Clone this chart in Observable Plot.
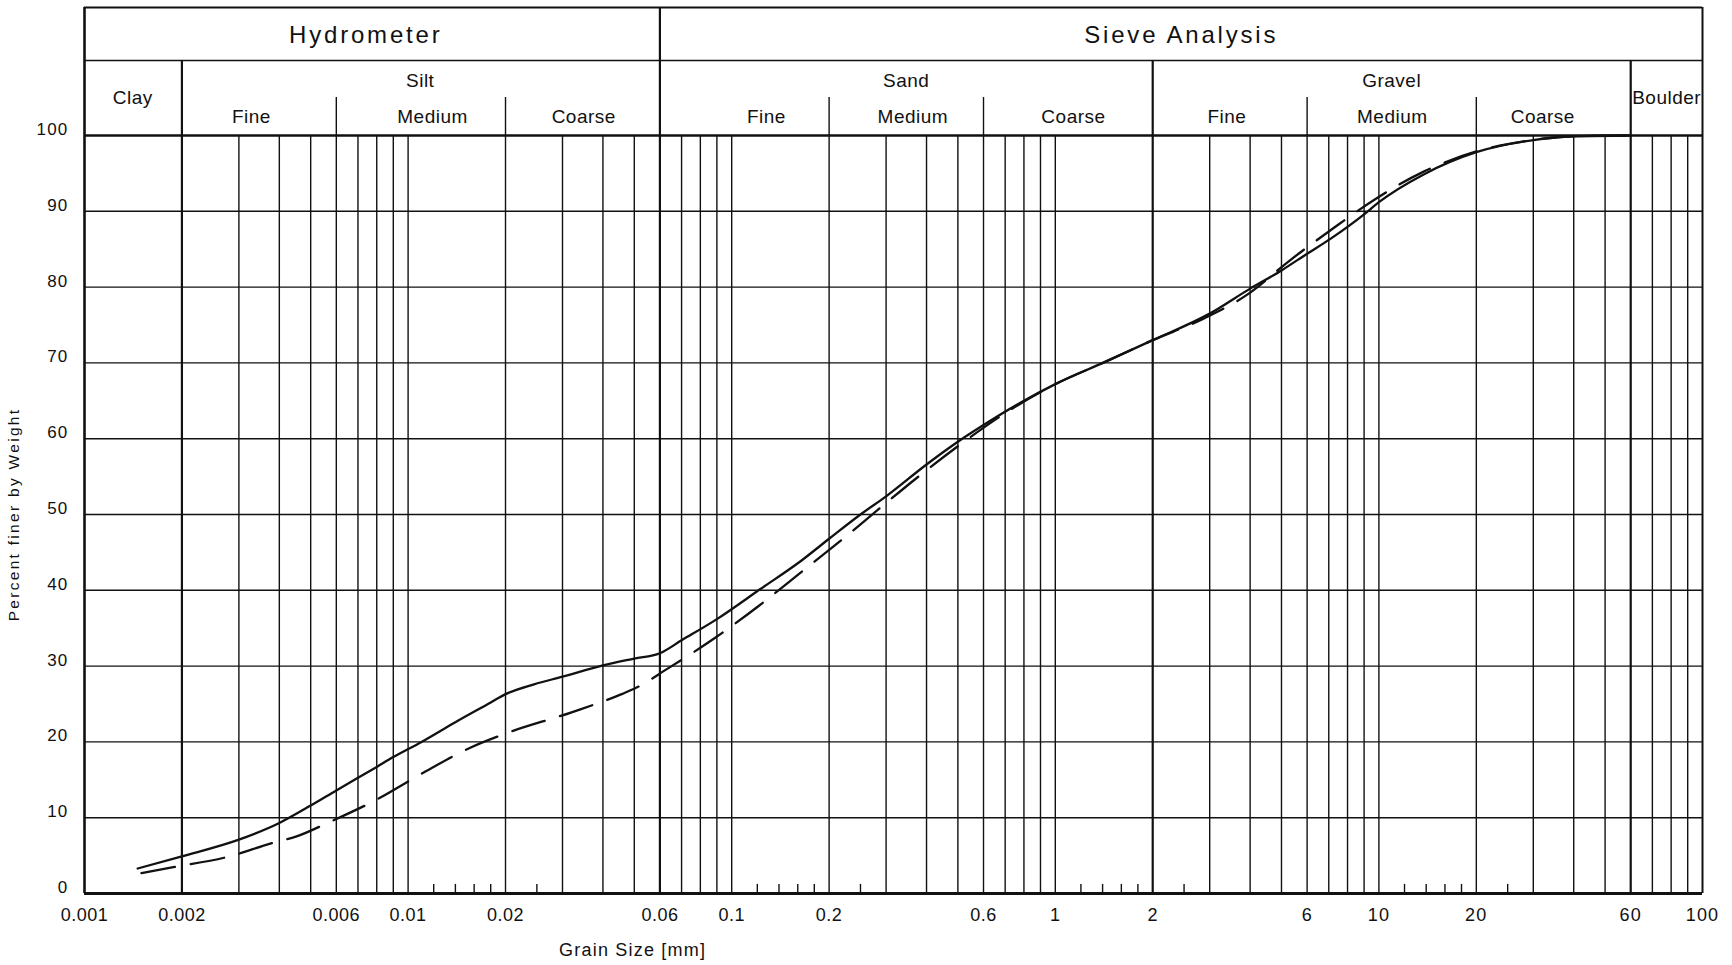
<!DOCTYPE html>
<html>
<head>
<meta charset="utf-8">
<script src="https://cdn.jsdelivr.net/npm/d3@7"></script>
<script src="https://cdn.jsdelivr.net/npm/@observablehq/plot@0.6"></script>
<style>
  body { margin: 0; background: #fff; }
  #chart svg { display: block; }
</style>
</head>
<body>
<div id="chart"></div>
<script>
// ---- data (grain size in mm, percent finer by weight) ----
const sampleA_size = [0.00146, 0.002, 0.003, 0.004, 0.005, 0.006, 0.008, 0.009, 0.011, 0.014, 0.018, 0.02, 0.0245, 0.03, 0.04, 0.05, 0.06, 0.07, 0.09, 0.123, 0.164, 0.2, 0.25, 0.3, 0.4, 0.5, 0.6, 0.8, 1.0, 1.42, 2.0, 3.0, 4.0, 5.0, 6.0, 7.1, 9.0, 10, 13.8, 20, 30, 40, 60];
const sampleA_finer = [3.3, 4.9, 7.1, 9.3, 11.6, 13.6, 16.7, 18.0, 20.0, 22.6, 25.2, 26.3, 27.6, 28.6, 30.1, 31.0, 31.7, 33.4, 36.2, 40.2, 43.9, 46.8, 50.0, 52.4, 56.6, 59.6, 61.8, 65.0, 67.2, 70.1, 73.0, 76.5, 79.8, 82.2, 84.4, 86.4, 89.6, 91.2, 94.9, 97.8, 99.4, 99.9, 100];

const sampleB_size = [0.0015, 0.0019, 0.00275, 0.0039, 0.0045, 0.0057, 0.008, 0.011, 0.0155, 0.02, 0.032, 0.0457, 0.051, 0.063, 0.088, 0.12, 0.164, 0.218, 0.29, 0.388, 0.53, 0.72, 1.0, 1.42, 2.0, 2.86, 3.95, 5.3, 7.3, 9.9, 13.7, 20, 30, 40, 60];
const sampleB_finer = [2.7, 3.5, 4.8, 6.8, 7.5, 9.4, 12.4, 15.8, 19.2, 21.1, 23.9, 26.3, 27.2, 29.6, 33.6, 37.8, 42.4, 46.6, 51.0, 55.4, 59.8, 63.7, 67.2, 70.1, 73.0, 75.8, 79.1, 83.5, 87.9, 91.8, 95.2, 97.9, 99.4, 99.9, 100];

// grid of sieve / hydrometer sizes
const gridSizes = [0.003, 0.004, 0.005, 0.007, 0.008, 0.009, 0.01, 0.03, 0.04, 0.05, 0.07, 0.08, 0.09, 0.1, 0.3, 0.4, 0.5, 0.7, 0.8, 0.9, 1, 3, 4, 5, 7, 8, 9, 10, 30, 40, 50, 70, 80, 90];
const subBoundaries = [0.006, 0.02, 0.2, 0.6, 6, 20];
const minorTicks = [0.012, 0.014, 0.016, 0.018, 0.025, 0.12, 0.14, 0.16, 0.18, 0.25, 1.2, 1.4, 1.6, 1.8, 2.5, 12, 14, 16, 18, 25];
const xTickLabels = [0.001, 0.002, 0.006, 0.01, 0.02, 0.06, 0.1, 0.2, 0.6, 1, 2, 6, 10, 20, 60, 100];
const yTickLabels = [0, 10, 20, 30, 40, 50, 60, 70, 80, 90, 100];
const yGrid = [10, 20, 30, 40, 50, 60, 70, 80, 90];

// header categories
const methodNames = ["Hydrometer", "Sieve Analysis"];
const methodAt = [0.0074, 2.45];
const soilNames = ["Silt", "Sand", "Gravel"];
const soilAt = [0.0109, 0.346, 10.95];
const edgeSoilNames = ["Clay", "Boulder"];
const edgeSoilAt = [0.00141, 77.5];
const fractionNames = ["Fine", "Medium", "Coarse", "Fine", "Medium", "Coarse", "Fine", "Medium", "Coarse"];
const fractionAt = [0.00328, 0.0119, 0.0349, 0.128, 0.363, 1.138, 3.39, 11.0, 32.1];

const xTitle = "Grain Size [mm]";
const yTitle = "Percent finer by Weight";

// ---- build tables ----
const sampleA = sampleA_size.map((d, i) => ({size: d, finer: sampleA_finer[i]}));
const sampleB = sampleB_size.map((d, i) => ({size: d, finer: sampleB_finer[i]}));
const methods = methodNames.map((n, i) => ({label: n, at: methodAt[i]}));
const soils = soilNames.map((n, i) => ({label: n, at: soilAt[i]}));
const edgeSoils = edgeSoilNames.map((n, i) => ({label: n, at: edgeSoilAt[i]}));
const fractions = fractionNames.map((n, i) => ({label: n, at: fractionAt[i]}));

// header rows expressed on the percent axis (above 100)
const H = {top: 116.9, row: 109.9, sub: 105.0, methodY: 113.2, soilY: 107.2, edgeY: 104.9, fracY: 102.4};

const ink = "#111";
const font = "Liberation Sans, Arial, Helvetica, sans-serif";
const thin = 1.4;

const chart = Plot.plot({
  width: 1732,
  height: 965,
  marginLeft: 84,
  marginRight: 30,
  marginTop: 135,
  marginBottom: 72,
  style: {fontFamily: font, background: "#fff", color: ink},
  x: {type: "log", domain: [0.001, 100], axis: null},
  y: {domain: [0, 100], axis: null},
  marks: [
    // grid
    Plot.ruleY(yGrid, {stroke: ink, strokeWidth: thin}),
    Plot.ruleX(gridSizes, {y1: 0, y2: 100, stroke: ink, strokeWidth: thin}),
    Plot.ruleX(subBoundaries, {y1: 0, y2: H.sub, stroke: ink, strokeWidth: thin}),
    Plot.ruleX(minorTicks, {y1: 0, y2: 1.2, stroke: ink, strokeWidth: thin}),
    Plot.ruleX([0.002, 2, 60], {y1: 0, y2: H.row, stroke: ink, strokeWidth: 2.2}),
    Plot.ruleX([0.06], {y1: 0, y2: H.top, stroke: ink, strokeWidth: 2.2}),
    // header box
    Plot.ruleY([H.row], {x1: 0.001, x2: 100, stroke: ink, strokeWidth: 1.5}),
    Plot.ruleY([H.top], {x1: 0.001, x2: 100, stroke: ink, strokeWidth: 2}),
    Plot.ruleY([100], {x1: 0.001, x2: 100, stroke: ink, strokeWidth: 2.4}),
    Plot.ruleY([0], {x1: 0.001, x2: 100, stroke: ink, strokeWidth: 3}),
    Plot.ruleX([0.001], {y1: 0, y2: H.top, stroke: ink, strokeWidth: 2.6}),
    Plot.ruleX([100], {y1: 0, y2: H.top, stroke: ink, strokeWidth: 2}),
    // header texts
    Plot.text(methods, {x: "at", y: H.methodY, text: "label", fontSize: 24, fill: ink}),
    Plot.text(soils, {x: "at", y: H.soilY, text: "label", fontSize: 19, fill: ink}),
    Plot.text(edgeSoils, {x: "at", y: H.edgeY, text: "label", fontSize: 19, fill: ink}),
    Plot.text(fractions, {x: "at", y: H.fracY, text: "label", fontSize: 19, fill: ink}),
    // curves
    Plot.line(sampleA, {x: "size", y: "finer", curve: "monotone-x", stroke: ink, strokeWidth: 2.3}),
    Plot.line(sampleB, {x: "size", y: "finer", curve: "monotone-x", stroke: ink, strokeWidth: 2.3, strokeDasharray: "34 16"}),
    // axes (tick labels)
    Plot.text(xTickLabels, {x: d => d, frameAnchor: "bottom", lineAnchor: "middle", textAnchor: "middle", dy: 22, text: d => String(d), fontSize: 18, fill: ink}),
    Plot.text(yTickLabels, {y: d => d, frameAnchor: "left", textAnchor: "end", lineAnchor: "middle", dx: -16, dy: -6, text: d => String(d), fontSize: 17, fill: ink}),
    Plot.text([xTitle], {x: 0.0494, frameAnchor: "bottom", lineAnchor: "middle", textAnchor: "middle", dy: 57, fontSize: 18, fill: ink}),
    Plot.text([yTitle], {y: 50, frameAnchor: "left", textAnchor: "middle", lineAnchor: "middle", dx: -70, rotate: -90, fontSize: 15.5, fill: ink})
  ]
});

// letter spacing to match the reference's wide lettering
const spacing = new Map();
methodNames.forEach(n => spacing.set(n, 2.8));
[...soilNames, ...edgeSoilNames, ...fractionNames].forEach(n => spacing.set(n, 0.5));
xTickLabels.forEach(d => spacing.set(String(d), 0.5));
yTickLabels.forEach(d => spacing.set(String(d), 1.2));
spacing.set(xTitle, 1.2);
spacing.set(yTitle, 2.3);
d3.select(chart).selectAll("text").each(function () {
  const ls = spacing.get(this.textContent);
  if (ls != null) this.setAttribute("letter-spacing", ls);
});
document.getElementById("chart").appendChild(chart);
</script>
</body>
</html>
